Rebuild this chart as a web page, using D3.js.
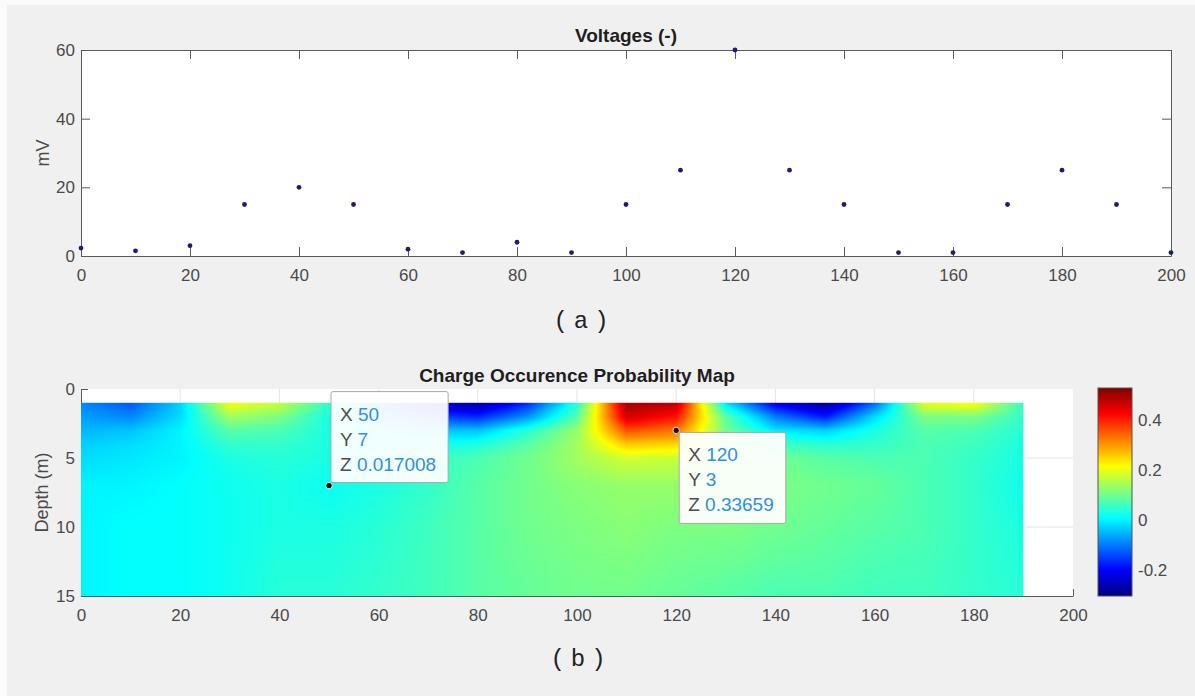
<!DOCTYPE html>
<html><head><meta charset="utf-8">
<script src="https://cdn.jsdelivr.net/npm/d3@7"></script>
<style>body{margin:0;background:#fff}svg{display:block}</style>
</head><body>
<svg id="c" width="1195" height="696"></svg>
<script>
// ---------- data ----------
const voltX = [0,10,20,30,40,50,60,70,80,90,100,110,120,130,140,150,160,170,180,190,200];
const voltY = [2.3,1.5,3,15,20,15,2,1,4,1,15,25,60,25,15,1,1,15,25,15,1];
const xTicks = [0,20,40,60,80,100,120,140,160,180,200];
const voltTicks = [0,20,40,60];
const depthTicks = [0,5,10,15];
const cbTicks = [-0.2,0,0.2,0.4];
const cbTickLabels = ["-0.2","0","0.2","0.4"];
const cbRange = [-0.304,0.528];
const gridX = [0,10,20,30,40,50,60,70,80,90,100,110,120,130,140,150,160,170,180,190];
const gridDepth = [1,2,3,4,5,7,10,15];
const probD1  = [-0.09,-0.13,-0.03,0.21,0.17,0.05,-0.12,-0.25,-0.28,-0.17,0.04,0.50,0.48,-0.02,-0.22,-0.29,-0.12,0.20,0.22,0.05];
const probD2  = [-0.07,-0.09,-0.02,0.14,0.11,0.03,-0.06,-0.14,-0.17,-0.08,0.08,0.46,0.41,0.08,-0.10,-0.18,-0.02,0.11,0.11,0.05];
const probD3  = [-0.05,-0.04,0.00,0.08,0.07,0.03,0.00,-0.04,-0.04,0.04,0.13,0.36,0.33,0.10,-0.01,-0.03,0.03,0.08,0.07,0.04];
const probD4  = [-0.03,-0.02,0.00,0.05,0.05,0.03,0.02,0.02,0.03,0.08,0.14,0.26,0.25,0.12,0.06,0.04,0.05,0.07,0.06,0.03];
const probD5  = [-0.02,-0.01,0.00,0.03,0.04,0.03,0.03,0.05,0.07,0.10,0.14,0.18,0.17,0.12,0.10,0.08,0.07,0.07,0.05,0.03];
const probD7  = [0.00,0.00,0.01,0.02,0.03,0.017,0.03,0.05,0.08,0.10,0.12,0.13,0.13,0.12,0.11,0.10,0.09,0.07,0.05,0.02];
const probD10 = [0.00,0.01,0.01,0.02,0.03,0.03,0.04,0.06,0.08,0.10,0.11,0.12,0.11,0.11,0.10,0.09,0.08,0.07,0.05,0.03];
const probD15 = [0.00,0.01,0.01,0.02,0.04,0.04,0.05,0.06,0.08,0.09,0.10,0.10,0.09,0.08,0.07,0.07,0.06,0.06,0.05,0.04];
const probRows = [probD1,probD2,probD3,probD4,probD5,probD7,probD10,probD15];
const tipX = [50,120];
const tipY = [7,3];
const tipZ = ["0.017008","0.33659"];

// ---------- helpers ----------
function jet(t){
  const c = v => Math.max(0,Math.min(1,v));
  return [c(1.5-Math.abs(4*t-3)), c(1.5-Math.abs(4*t-2)), c(1.5-Math.abs(4*t-1))];
}
const tScale = d3.scaleLinear().domain(cbRange).range([0,1]).clamp(true);
function colorOf(v){ const [r,g,b]=jet(tScale(v)); return [Math.round(r*255),Math.round(g*255),Math.round(b*255)]; }

const svg = d3.select("#c");
const FONT = "'Liberation Sans', Arial, Helvetica, sans-serif";
const MONO = "'Liberation Mono','DejaVu Sans Mono',monospace";
const AX = "#5a5a5a", TXT = "#4a4a4a";

svg.append("rect").attr("width",1195).attr("height",696).attr("fill","#fbfbfb");
svg.append("rect").attr("x",7).attr("y",5).attr("width",1188).attr("height",691).attr("fill","#f0f0f0");

// ---------- top chart ----------
const x1 = d3.scaleLinear().domain([0,200]).range([81,1171]);
const y1 = d3.scaleLinear().domain([0,60]).range([256,50]);
const g1 = svg.append("g");
g1.append("rect").attr("x",x1(0)).attr("y",y1(60)).attr("width",x1(200)-x1(0)).attr("height",y1(0)-y1(60)).attr("fill","#fff");
const TL = 9;
const bAx = g1.append("g").attr("transform",`translate(0,${y1(0)})`).call(d3.axisBottom(x1).tickValues(xTicks).tickSizeInner(-TL).tickSizeOuter(0).tickPadding(13));
const tAx = g1.append("g").attr("transform",`translate(0,${y1(60)})`).call(d3.axisTop(x1).tickValues(xTicks).tickSizeInner(-TL).tickSizeOuter(0).tickFormat(""));
const lAx = g1.append("g").attr("transform",`translate(${x1(0)},0)`).call(d3.axisLeft(y1).tickValues(voltTicks).tickSizeInner(-TL).tickSizeOuter(0).tickPadding(6));
const rAx = g1.append("g").attr("transform",`translate(${x1(200)},0)`).call(d3.axisRight(y1).tickValues(voltTicks).tickSizeInner(-TL).tickSizeOuter(0).tickFormat(""));
[bAx,tAx,lAx,rAx].forEach(a=>{
  a.select(".domain").attr("stroke",AX);
  a.selectAll(".tick line").attr("stroke",AX);
  a.selectAll(".tick text").attr("fill",TXT).style("font-family",FONT).style("font-size","17px");
});
g1.append("text").attr("x",(x1(0)+x1(200))/2).attr("y",42).attr("text-anchor","middle")
  .style("font-family",FONT).style("font-size","19px").style("font-weight","bold").attr("fill","#1e1e1e").text("Voltages (-)");
g1.append("text").attr("transform",`translate(49,${(y1(0)+y1(60))/2}) rotate(-90)`).attr("text-anchor","middle")
  .style("font-family",FONT).style("font-size","18px").attr("fill",TXT).text("mV");
g1.selectAll("circle.pt").data(voltX).join("circle").attr("class","pt")
  .attr("cx",(d)=>x1(d)).attr("cy",(d,i)=>y1(voltY[i])).attr("r",2.4).attr("fill","#1c1c78");
svg.append("text").attr("x",584).attr("y",328).attr("text-anchor","middle").style("letter-spacing","6px")
  .style("font-family",MONO).style("font-size","24px").attr("fill","#222").text("(a)");

// ---------- bottom chart ----------
const x2 = d3.scaleLinear().domain([0,200]).range([81,1073]);
const y2 = d3.scaleLinear().domain([0,15]).range([389,596]);
const g2 = svg.append("g");
g2.append("rect").attr("x",x2(0)).attr("y",y2(0)).attr("width",x2(200)-x2(0)).attr("height",y2(15)-y2(0)).attr("fill","#fff");
// grid
g2.selectAll("line.gx").data(xTicks.slice(1,-1)).join("line").attr("class","gx")
  .attr("x1",d=>x2(d)).attr("x2",d=>x2(d)).attr("y1",y2(0)).attr("y2",y2(15)).attr("stroke","#e4e4e4");
g2.selectAll("line.gy").data(depthTicks.slice(1,-1)).join("line").attr("class","gy")
  .attr("y1",d=>y2(d)).attr("y2",d=>y2(d)).attr("x1",x2(0)).attr("x2",x2(200)).attr("stroke","#e4e4e4");
const TL2 = 7;
const bAx2 = g2.append("g").attr("transform",`translate(0,${y2(15)})`).call(d3.axisBottom(x2).tickValues(xTicks).tickSizeInner(-TL2).tickSizeOuter(0).tickPadding(13));
const lAx2 = g2.append("g").attr("transform",`translate(${x2(0)},0)`).call(d3.axisLeft(y2).tickValues(depthTicks).tickSizeInner(-TL2).tickSizeOuter(0).tickPadding(6));
[bAx2,lAx2].forEach(a=>{
  a.select(".domain").attr("stroke",AX);
  a.selectAll(".tick line").attr("stroke",AX);
  a.selectAll(".tick text").attr("fill",TXT).style("font-family",FONT).style("font-size","17px");
});
// heatmap (interpolated shading)
const hx0 = x2(gridX[0]), hx1 = x2(gridX[gridX.length-1]);
const hy0 = y2(gridDepth[0]), hy1 = y2(gridDepth[gridDepth.length-1]);
const W = Math.round(hx1-hx0), H = Math.round(hy1-hy0);
const cvs = document.createElement("canvas"); cvs.width=W; cvs.height=H;
const ctx = cvs.getContext("2d");
const img = ctx.createImageData(W,H);
function sample(xv,dv){
  let i = Math.min(gridX.length-2, Math.max(0, d3.bisectRight(gridX,xv)-1));
  let j = Math.min(gridDepth.length-2, Math.max(0, d3.bisectRight(gridDepth,dv)-1));
  const tx = Math.max(0,Math.min(1,(xv-gridX[i])/(gridX[i+1]-gridX[i])));
  const ty = Math.max(0,Math.min(1,(dv-gridDepth[j])/(gridDepth[j+1]-gridDepth[j])));
  const a = probRows[j][i], b = probRows[j][i+1], c = probRows[j+1][i], d = probRows[j+1][i+1];
  return (a*(1-tx)+b*tx)*(1-ty) + (c*(1-tx)+d*tx)*ty;
}
for(let py=0;py<H;py++){
  const dv = y2.invert(hy0+py+0.5);
  for(let px=0;px<W;px++){
    const xv = x2.invert(hx0+px+0.5);
    const [r,g,b] = colorOf(sample(xv,dv));
    const k=(py*W+px)*4; img.data[k]=r; img.data[k+1]=g; img.data[k+2]=b; img.data[k+3]=255;
  }
}
ctx.putImageData(img,0,0);
g2.append("image").attr("x",hx0).attr("y",hy0).attr("width",hx1-hx0).attr("height",hy1-hy0)
  .attr("preserveAspectRatio","none").attr("href",cvs.toDataURL());
g2.append("text").attr("x",(x2(0)+x2(200))/2).attr("y",382).attr("text-anchor","middle")
  .style("font-family",FONT).style("font-size","19px").style("font-weight","bold").attr("fill","#1e1e1e").text("Charge Occurence Probability Map");
g2.append("text").attr("transform",`translate(48,${(y2(0)+y2(15))/2}) rotate(-90)`).attr("text-anchor","middle")
  .style("font-family",FONT).style("font-size","18px").attr("fill",TXT).text("Depth (m)");

// colorbar
const cb = d3.scaleLinear().domain(cbRange).range([596,388]);
const defs = svg.append("defs");
const lg = defs.append("linearGradient").attr("id","jetg").attr("x1",0).attr("y1",1).attr("x2",0).attr("y2",0);
d3.range(0,65).forEach(i=>{ const t=i/64; const [r,g,b]=jet(t);
  lg.append("stop").attr("offset",t).attr("stop-color",d3.rgb(r*255,g*255,b*255)); });
const cbx=1098, cbw=34;
svg.append("rect").attr("x",cbx).attr("y",cb(cbRange[1])).attr("width",cbw).attr("height",cb(cbRange[0])-cb(cbRange[1]))
  .attr("fill","url(#jetg)").attr("stroke","#555").attr("stroke-width",1);
svg.selectAll("text.cbt").data(cbTicks).join("text").attr("class","cbt")
  .attr("x",cbx+cbw+6).attr("y",d=>cb(d)).attr("dy","0.35em")
  .style("font-family",FONT).style("font-size","17px").attr("fill",TXT).text((d,i)=>cbTickLabels[i]);

// data tips
const tipDir = [{dx:2,dy:-94},{dx:3,dy:2}];
tipX.forEach((tx,i)=>{
  const px=x2(tx), py=y2(tipY[i]);
  const bx=px+tipDir[i].dx, by=py+tipDir[i].dy;
  const gt = svg.append("g");
  const box = gt.append("rect").attr("x",bx).attr("y",by).attr("height",91).attr("rx",2)
    .attr("fill","rgba(255,255,255,0.94)").attr("stroke","#a8a8a8").attr("stroke-width",1);
  const lines=[["X",String(tx)],["Y",String(tipY[i])],["Z",tipZ[i]]];
  const base=[29,54,79];
  let maxw=0;
  lines.forEach((ln,k)=>{
    const t = gt.append("text").attr("x",bx+9).attr("y",by+base[k]).style("font-family",FONT).style("font-size","19px");
    t.append("tspan").attr("fill","#4d4d4d").text(ln[0]+" ");
    t.append("tspan").attr("fill","#2f8fe0").text(ln[1]);
    maxw=Math.max(maxw,t.node().getComputedTextLength());
  });
  box.attr("width",maxw+21);
  svg.append("circle").attr("cx",px).attr("cy",py).attr("r",3.2).attr("fill","#111").attr("stroke","#fff").attr("stroke-width",0.8);
});

svg.append("text").attr("x",581).attr("y",666).attr("text-anchor","middle").style("letter-spacing","6px")
  .style("font-family",MONO).style("font-size","24px").attr("fill","#222").text("(b)");
</script>
</body></html>
